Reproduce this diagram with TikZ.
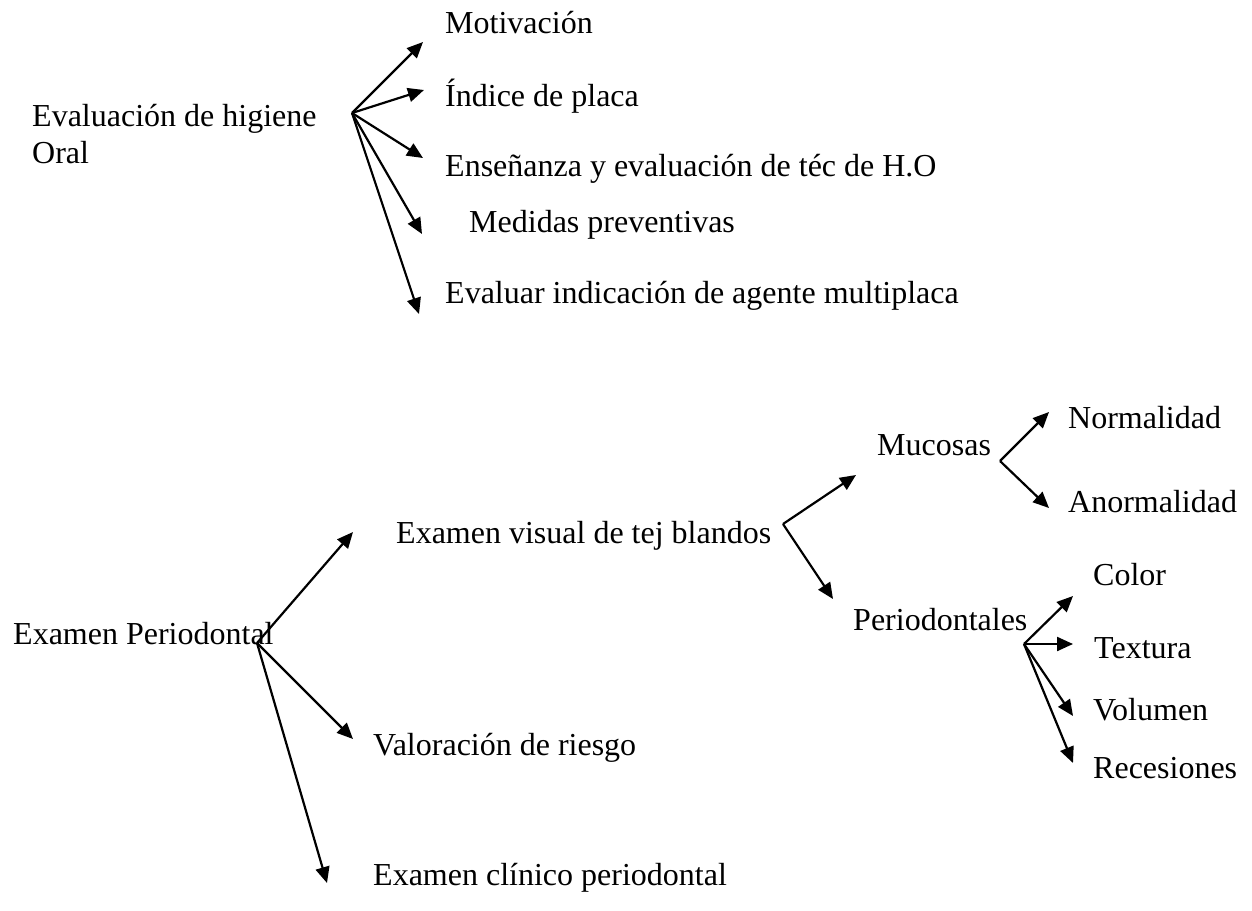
\documentclass[tikz,border=0pt]{standalone}
\usepackage{fontspec}
\setmainfont{Liberation Serif}
\usetikzlibrary{arrows.meta}

\tikzset{
  txt/.style={anchor=base west, inner sep=0pt, font=\fontsize{32}{37}\selectfont},
  flecha/.style={-{Triangle[length=16pt,width=14pt]}, line width=2.2pt}
}

\begin{document}
\begin{tikzpicture}[x=1pt, y=-1pt]
    \useasboundingbox (0,0) rectangle (1252,910);

    % higiene oral
    \node[txt, anchor=north west, align=left] (hig) at (32, 104) {Evaluación de higiene\\Oral};
    \node[txt] (motiv)  at (445, 33)  {Motivación};
    \node[txt] (indice) at (445, 106) {Índice de placa};
    \node[txt] (ense)   at (445, 176) {Enseñanza y evaluación de téc de H.O};
    \node[txt] (medid)  at (469, 232) {Medidas preventivas};
    \node[txt] (evalu)  at (445, 303) {Evaluar indicación de agente multiplaca};

    \coordinate (jhig)    at (352, 113);
    \coordinate (tmotiv)  at (423, 42);
    \coordinate (tindice) at (424, 90);
    \coordinate (tense)   at (423, 158);
    \coordinate (tmedid)  at (422, 234);
    \coordinate (tevalu)  at (419, 314);

    \draw (jhig) edge[flecha] (tmotiv);
    \draw (jhig) edge[flecha] (tindice);
    \draw (jhig) edge[flecha] (tense);
    \draw (jhig) edge[flecha] (tmedid);
    \draw (jhig) edge[flecha] (tevalu);

    % examen periodontal
    \node[txt] (exper)  at (13, 644)  {Examen Periodontal};
    \node[txt] (visual) at (396, 543) {Examen visual de tej blandos};
    \node[txt] (valor)  at (373, 755) {Valoración de riesgo};
    \node[txt] (clin)   at (373, 885) {Examen clínico periodontal};

    \coordinate (jper)    at (257, 643);
    \coordinate (tvisual) at (353, 532);
    \coordinate (tvalor)  at (353, 739);
    \coordinate (tclin)   at (327, 883);

    \draw (jper) edge[flecha] (tvisual);
    \draw (jper) edge[flecha] (tvalor);
    \draw (jper) edge[flecha] (tclin);

    % tejidos blandos
    \node[txt] (muco)  at (877, 455) {Mucosas};
    \node[txt] (perio) at (853, 630) {Periodontales};

    \coordinate (jvis)  at (783, 524);
    \coordinate (tmuco) at (856, 475);
    \coordinate (tperio) at (833, 599);

    \draw (jvis) edge[flecha] (tmuco);
    \draw (jvis) edge[flecha] (tperio);

    % mucosas
    \node[txt] (normal) at (1068, 428) {Normalidad};
    \node[txt] (anorm)  at (1068, 512) {Anormalidad};

    \coordinate (jmuco)   at (1000, 461);
    \coordinate (tnormal) at (1049, 412);
    \coordinate (tanorm)  at (1049, 508);

    \draw (jmuco) edge[flecha] (tnormal);
    \draw (jmuco) edge[flecha] (tanorm);

    % periodontales
    \node[txt] (color)  at (1093, 585) {Color};
    \node[txt] (textu)  at (1094, 658) {Textura};
    \node[txt] (volum)  at (1093, 720) {Volumen};
    \node[txt] (reces)  at (1093, 778) {Recesiones};

    \coordinate (jperio)  at (1024, 644);
    \coordinate (tcolor)  at (1073, 596);
    \coordinate (ttextu)  at (1073, 644);
    \coordinate (tvolum)  at (1073, 716);
    \coordinate (treces)  at (1073, 763);

    \draw (jperio) edge[flecha] (tcolor);
    \draw (jperio) edge[flecha] (ttextu);
    \draw (jperio) edge[flecha] (tvolum);
    \draw (jperio) edge[flecha] (treces);
\end{tikzpicture}
\end{document}
